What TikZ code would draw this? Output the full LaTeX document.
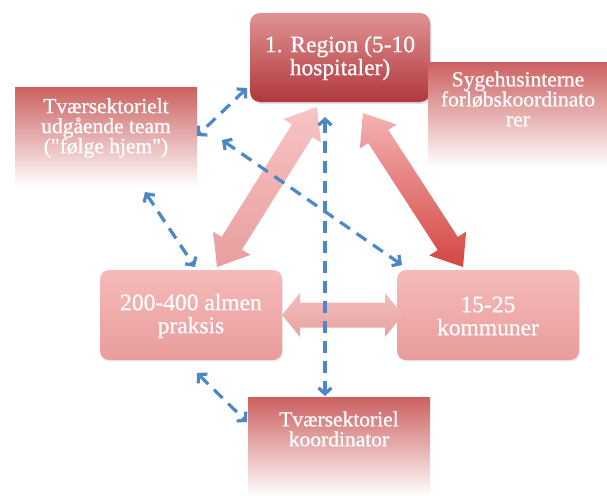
\documentclass[tikz,border=0pt]{standalone}
\usepackage{fontspec}
\setmainfont{Liberation Serif}
\newfontfamily\boxfont{Liberation Serif}[FakeBold=0.7]
\usetikzlibrary{calc,arrows.meta,shadows}

\definecolor{regTop}{RGB}{224,146,148}
\definecolor{regBot}{RGB}{176,56,60}
\definecolor{pinkTop}{RGB}{246,186,186}
\definecolor{pinkBot}{RGB}{233,156,156}
\definecolor{fadeRed}{RGB}{204,96,96}
\definecolor{linkBlue}{RGB}{76,135,200}
\definecolor{arrLTop}{RGB}{248,196,196}
\definecolor{arrLBot}{RGB}{232,158,158}
\definecolor{arrRTop}{RGB}{244,178,178}
\definecolor{arrRBot}{RGB}{212,70,66}
\definecolor{arrHTop}{RGB}{244,188,188}
\definecolor{arrHBot}{RGB}{232,162,162}

% double-headed block arrow from #1 to #2:
% #3 shaft half width, #4 head half width, #5 head length, #6 path style
\newcommand\fatarrow[6]{%
  \path[#6] (#1)
    -- ($(#1)!#5!(#2)!#4!90:(#2)$) -- ($(#1)!#5!(#2)!#3!90:(#2)$)
    -- ($(#2)!#5!(#1)!#3!-90:(#1)$) -- ($(#2)!#5!(#1)!#4!-90:(#1)$)
    -- (#2)
    -- ($(#2)!#5!(#1)!#4!90:(#1)$) -- ($(#2)!#5!(#1)!#3!90:(#1)$)
    -- ($(#1)!#5!(#2)!#3!-90:(#2)$) -- ($(#1)!#5!(#2)!#4!-90:(#2)$)
    -- cycle;}

\tikzset{
  bigtext/.style={text=white, align=center, inner sep=0pt,
    font=\boxfont\fontsize{23.5}{23}\selectfont},
  smalltext/.style={text=white, align=center, inner sep=0pt,
    font=\boxfont\fontsize{21.5}{20}\selectfont},
  regionbox/.style={rounded corners=10pt, top color=regTop, bottom color=regBot,
    minimum width=180pt, minimum height=89pt, inner sep=0pt,
    drop shadow={opacity=0.25, shadow xshift=1.5pt, shadow yshift=-2pt}},
  pinkbox/.style={rounded corners=9pt, top color=pinkTop, bottom color=pinkBot,
    minimum width=182pt, minimum height=90pt, inner sep=0pt,
    drop shadow={opacity=0.15, shadow xshift=1pt, shadow yshift=-1.5pt}},
  fadebox/.style={top color=fadeRed, bottom color=white, inner sep=0pt},
  link/.style={draw=linkBlue, line width=3.2pt, dash pattern=on 12pt off 8pt,
    {Straight Barb[length=6pt,width=13pt]}-{Straight Barb[length=6pt,width=13pt]}},
}

\begin{document}
\begin{tikzpicture}[x=1pt,y=-1pt]
\useasboundingbox[fill=white] (0,0) rectangle (607,495);

% boxes
\node[regionbox] (reg) at (340,57.5) {};
\node[bigtext] at (340,58) {1. Region (5-10\\hospitaler)};

\node[fadebox, minimum width=182pt, minimum height=100pt] (team) at (106,137) {};
\node[smalltext] at (106,128) {Tværsektorielt\\udgående team\\("følge hjem")};

\node[fadebox, minimum width=179pt, minimum height=105pt] (syg) at (517.5,114.5) {};
\node[smalltext] at (518,99) {Sygehusinterne\\forløbskoordinato\\rer};

\node[pinkbox] (alm) at (191,315) {};
\node[bigtext] at (191,316) {200-400 almen\\praksis};

\node[pinkbox] (kom) at (488,315) {};
\node[bigtext] at (488,316) {15-25\\kommuner};

\node[fadebox, minimum width=182pt, minimum height=100pt] (koo) at (339,447) {};
\node[smalltext] at (339,429) {Tværsektoriel\\koordinator};

% block arrow end points
\coordinate (rl) at (317,107);
\coordinate (al) at (217,267);
\coordinate (rr) at (363,113);
\coordinate (kr) at (463,267);
\coordinate (ah) at (282,315);
\coordinate (kh) at (403,315);

\fatarrow{rl}{al}{12pt}{22pt}{28pt}{top color=arrLTop, bottom color=arrLBot}
\fatarrow{rr}{kr}{12pt}{22pt}{28pt}{top color=arrRTop, bottom color=arrRBot}
\fatarrow{ah}{kh}{12.5pt}{22pt}{18pt}{top color=arrHTop, bottom color=arrHBot}

% dashed links
\coordinate (d1a) at (247,88);   \coordinate (d1b) at (197,136);
\coordinate (d2a) at (145,192);  \coordinate (d2b) at (195,267);
\coordinate (d3a) at (222,140);  \coordinate (d3b) at (402,265);
\coordinate (d4a) at (325,117);  \coordinate (d4b) at (325,396);
\coordinate (d5a) at (197,373);  \coordinate (d5b) at (247,422);

\draw[link] (d1a) -- (d1b);
\draw[link] (d2a) -- (d2b);
\draw[link] (d3a) -- (d3b);
\draw[link] (d4a) -- (d4b);
\draw[link] (d5a) -- (d5b);
\end{tikzpicture}
\end{document}
